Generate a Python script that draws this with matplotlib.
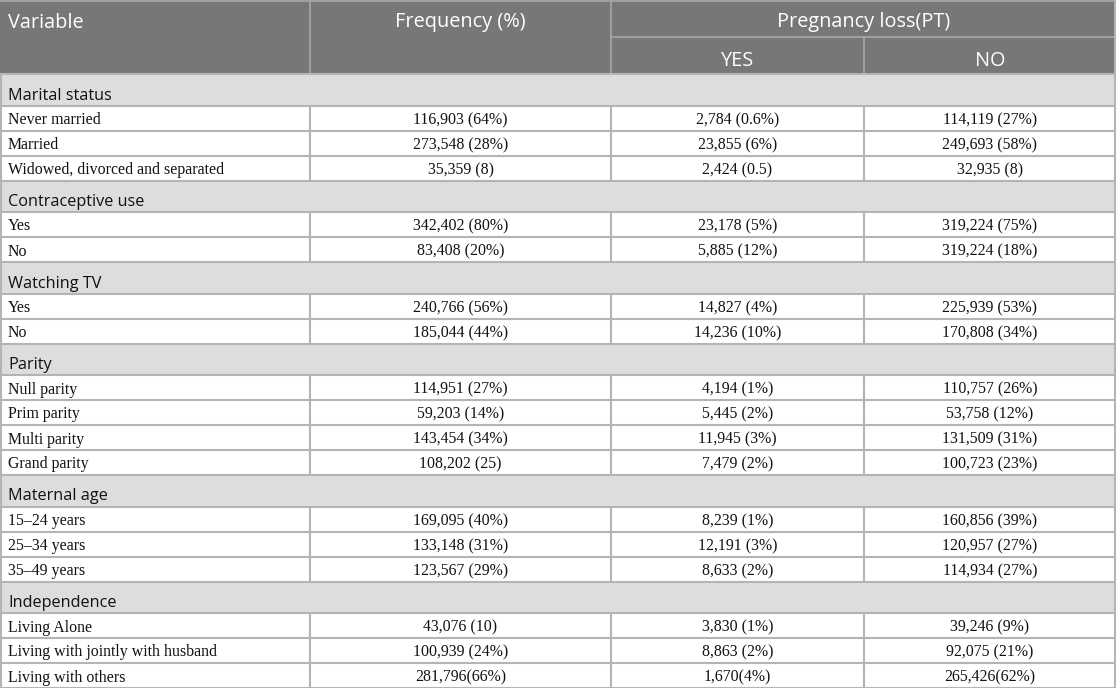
import matplotlib
matplotlib.use("Agg")
import matplotlib.pyplot as plt
from matplotlib.patches import Rectangle

# table contents
sections = ["Marital status", "Contraceptive use", "Watching TV", "Parity",
            "Maternal age", "Independence"]
row_labels = [
    ["Never married", "Married", "Widowed, divorced and separated"],
    ["Yes", "No"],
    ["Yes", "No"],
    ["Null parity", "Prim parity", "Multi parity", "Grand parity"],
    ["15\u201324 years", "25\u201334 years", "35\u201349 years"],
    ["Living Alone", "Living with jointly with husband", "Living with others"],
]
frequency = [
    ["116,903 (64%)", "273,548 (28%)", "35,359 (8)"],
    ["342,402 (80%)", "83,408 (20%)"],
    ["240,766 (56%)", "185,044 (44%)"],
    ["114,951 (27%)", "59,203 (14%)", "143,454 (34%)", "108,202 (25)"],
    ["169,095 (40%)", "133,148 (31%)", "123,567 (29%)"],
    ["43,076 (10)", "100,939 (24%)", "281,796(66%)"],
]
loss_yes = [
    ["2,784 (0.6%)", "23,855 (6%)", "2,424 (0.5)"],
    ["23,178 (5%)", "5,885 (12%)"],
    ["14,827 (4%)", "14,236 (10%)"],
    ["4,194 (1%)", "5,445 (2%)", "11,945 (3%)", "7,479 (2%)"],
    ["8,239 (1%)", "12,191 (3%)", "8,633 (2%)"],
    ["3,830 (1%)", "8,863 (2%)", "1,670(4%)"],
]
loss_no = [
    ["114,119 (27%)", "249,693 (58%)", "32,935 (8)"],
    ["319,224 (75%)", "319,224 (18%)"],
    ["225,939 (53%)", "170,808 (34%)"],
    ["110,757 (26%)", "53,758 (12%)", "131,509 (31%)", "100,723 (23%)"],
    ["160,856 (39%)", "120,957 (27%)", "114,934 (27%)"],
    ["39,246 (9%)", "92,075 (21%)", "265,426(62%)"],
]

W, H = 1116, 688
col_x = [0, 310, 611, 864, 1116]
head_h = 74
sec_h = 31.5
row_h = 25

HEAD_BG = "#777777"
SEC_BG = "#dddddd"
GRID = "#b4b4b4"
SANS = ["Open Sans", "DejaVu Sans"]
SERIF = ["Liberation Serif", "DejaVu Serif"]
TXT = "#111111"

fig = plt.figure(figsize=(W / 100, H / 100), dpi=100)
ax = fig.add_axes([0, 0, 1, 1])
ax.set_xlim(0, W)
ax.set_ylim(H, 0)
ax.axis("off")

# header
hd = dict(color="white", fontsize=14.3, family=SANS, va="baseline")
ax.add_patch(Rectangle((0, 0), W, head_h, color=HEAD_BG, lw=0))
ax.text(8, 27.5, "Variable", **hd)
ax.text((col_x[1] + col_x[2]) / 2, 27.5, "Frequency (%)", ha="center", **hd)
ax.text((col_x[2] + col_x[4]) / 2, 27, "Pregnancy loss(PT)", ha="center", **hd)
ax.text((col_x[2] + col_x[3]) / 2, 66, "YES", ha="center", **hd)
ax.text((col_x[3] + col_x[4]) / 2, 66, "NO", ha="center", **hd)
hl = dict(color="#a8a8a8", lw=1.2)
ax.plot([col_x[1], col_x[1]], [0, head_h], **hl)
ax.plot([col_x[2], col_x[2]], [0, head_h], **hl)
ax.plot([col_x[3], col_x[3]], [37, head_h], **hl)
ax.plot([col_x[2], W], [37, 37], **hl)
ax.plot([0, W], [0.5, 0.5], **hl)

gl = dict(color=GRID, lw=1.5, solid_capstyle="butt")
y = head_h
for s, name in enumerate(sections):
    ax.add_patch(Rectangle((0, y), W, sec_h, color=SEC_BG, lw=0))
    ax.text(8, y + 25.5, name, fontsize=11.7, family=SANS, va="baseline", color=TXT)
    ax.plot([0, W], [y, y], **gl)
    y += sec_h
    for r, lab in enumerate(row_labels[s]):
        ax.plot([0, W], [y, y], **gl)
        base = y + 18.5
        ax.text(8, base, lab, fontsize=11.4, family=SERIF, va="baseline", color=TXT)
        vals = [frequency[s][r], loss_yes[s][r], loss_no[s][r]]
        for c, v in enumerate(vals):
            ax.text((col_x[c + 1] + col_x[c + 2]) / 2, base, v, fontsize=11.4,
                    family=SERIF, va="baseline", ha="center", color=TXT)
        for cx in col_x[1:4]:
            ax.plot([cx, cx], [y, y + row_h], **gl)
        y += row_h
ax.plot([0, W], [y, y], **gl)
ax.plot([0.8, 0.8], [head_h, y], **gl)
ax.plot([W - 0.8, W - 0.8], [0, y], **gl)

fig.savefig("out.png", dpi=100)
